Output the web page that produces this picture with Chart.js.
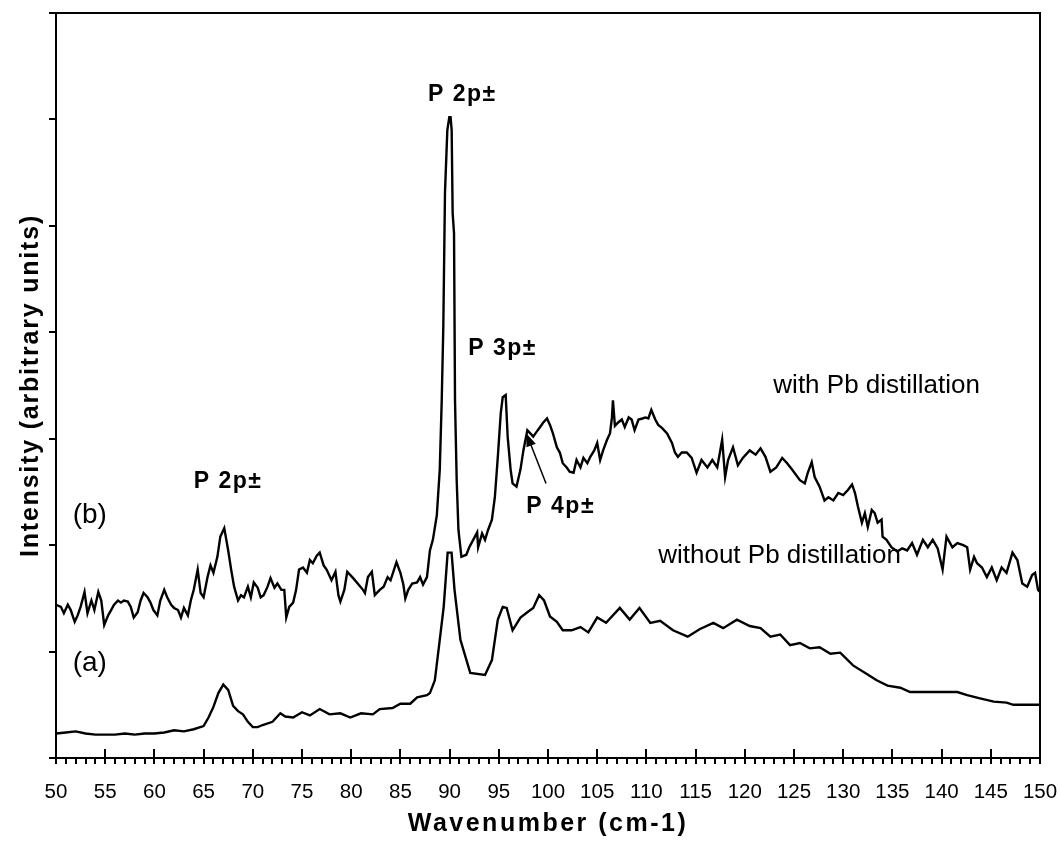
<!DOCTYPE html>
<html>
<head>
<meta charset="utf-8">
<script src="https://cdn.jsdelivr.net/npm/chart.js@4.4.0/dist/chart.umd.min.js"></script>
<style>
  html, body { margin: 0; padding: 0; background: #fff; }
  #wrap { width: 1060px; height: 848px; }
</style>
</head>
<body>
<div id="wrap"><canvas id="spectrum" width="1060" height="848"></canvas></div>
<script>
// (a) without Pb distillation - wavenumber (cm-1) / intensity (arb. units)
const waveA = [50, 51, 52, 53, 54, 55, 56, 57, 58, 59, 60, 61, 62, 63, 64, 65, 65.5, 66, 66.5, 67,
  67.5, 68, 68.5, 69, 69.5, 70, 70.5, 71, 72, 72.8, 73.3, 74.1, 75, 75.8, 76.8, 77.8, 78.9, 79.9,
  81, 82.2, 82.9, 84.2, 85, 86, 86.7, 87.7, 88, 88.5, 89, 89.4, 89.8, 90.2, 90.5, 91.1, 92.1,
  93.6, 94.3, 94.9, 95.4, 95.8, 96.4, 97.2, 97.9, 98.5, 99.1, 99.6, 100.2, 100.9, 101.5, 102.4,
  103.3, 104.1, 105, 105.9, 107.3, 108.3, 109.3, 110.4, 111.4, 112.7, 114.2, 115.4, 116.8, 117.8,
  119.2, 120.5, 121.6, 122.6, 123.6, 124.6, 125.6, 126.6, 127.6, 128.7, 129.7, 131, 132.4, 133.4,
  134.5, 135.8, 136.8, 138, 140, 141.6, 142.6, 143.9, 145.3, 146.6, 147.3, 150];
const intensityA = [0.23, 0.24, 0.25, 0.23, 0.22, 0.22, 0.22, 0.23, 0.22, 0.23, 0.23, 0.24, 0.26,
  0.25, 0.27, 0.30, 0.38, 0.48, 0.61, 0.69, 0.64, 0.49, 0.44, 0.41, 0.34, 0.29, 0.29, 0.31, 0.34,
  0.42, 0.39, 0.38, 0.43, 0.40, 0.46, 0.41, 0.42, 0.38, 0.42, 0.41, 0.46, 0.47, 0.51, 0.51, 0.57,
  0.59, 0.61, 0.73, 1.11, 1.42, 1.93, 1.93, 1.58, 1.11, 0.80, 0.78, 0.92, 1.30, 1.42, 1.41, 1.20,
  1.32, 1.37, 1.41, 1.53, 1.48, 1.33, 1.28, 1.20, 1.20, 1.23, 1.18, 1.32, 1.27, 1.41, 1.30, 1.41,
  1.27, 1.29, 1.20, 1.14, 1.21, 1.27, 1.22, 1.30, 1.24, 1.22, 1.14, 1.16, 1.06, 1.08, 1.03, 1.04,
  0.98, 0.99, 0.87, 0.79, 0.73, 0.68, 0.66, 0.62, 0.62, 0.62, 0.62, 0.59, 0.56, 0.53, 0.52, 0.50,
  0.50];

// (b) with Pb distillation
const waveB = [50, 50.5, 50.8, 51.2, 51.5, 51.9, 52.2, 52.5, 52.9, 53.2, 53.6, 53.9, 54.3, 54.6,
  54.9, 55.3, 55.6, 55.9, 56.3, 56.6, 56.9, 57.3, 57.6, 57.9, 58.3, 58.6, 58.9, 59.3, 59.6, 59.9,
  60.3, 60.6, 61, 61.3, 61.7, 62, 62.4, 62.7, 63, 63.4, 63.7, 64, 64.4, 64.7, 65, 65.4, 65.7, 66,
  66.4, 66.7, 67.1, 67.5, 67.8, 68.1, 68.5, 68.8, 69.1, 69.5, 69.8, 70.1, 70.5, 70.8, 71.1, 71.5,
  71.8, 72.2, 72.5, 72.9, 73.2, 73.4, 73.7, 74.1, 74.4, 74.7, 75.1, 75.5, 75.8, 76.1, 76.5, 76.8,
  77.2, 77.5, 78, 78.4, 78.7, 78.9, 79.3, 79.6, 80.2, 81.2, 81.4, 81.7, 82.1, 82.4, 82.9, 83.3,
  83.7, 84, 84.6, 85, 85.3, 85.5, 85.8, 86.2, 86.7, 87, 87.3, 87.7, 88, 88.3, 88.7, 89, 89.2,
  89.36, 89.53, 89.77, 89.97, 90.1, 90.21, 90.31, 90.45, 90.55, 90.72, 90.9, 91.2, 91.7, 92,
  92.4, 92.8, 92.9, 93.3, 93.6, 93.9, 94.3, 94.6, 94.9, 95.2, 95.4, 95.7, 95.9, 96.2, 96.4, 96.8,
  97.2, 97.5, 97.9, 98.2, 98.5, 98.8, 99.2, 99.5, 99.9, 100.2, 100.5, 100.9, 101.2, 101.5, 101.9,
  102.2, 102.6, 102.9, 103.3, 103.6, 104, 104.3, 104.7, 105, 105.3, 105.6, 106, 106.3, 106.5,
  106.6, 106.8, 107.1, 107.5, 107.8, 108.2, 108.5, 108.8, 109.2, 109.6, 109.9, 110.2, 110.5,
  110.9, 111.2, 111.6, 112.1, 112.6, 112.9, 113.2, 113.6, 114.1, 114.6, 115.1, 115.6, 116.2,
  116.7, 117.2, 117.7, 118, 118.3, 118.8, 119.3, 119.8, 120.5, 121.1, 121.6, 122.1, 122.6,
  123.2, 123.8, 124.3, 124.8, 125.6, 126.1, 126.4, 126.8, 127.1, 127.6, 128.1, 128.5, 129,
  129.5, 130, 130.5, 130.9, 131.2, 131.5, 131.9, 132.2, 132.5, 132.9, 133.2, 133.5, 133.9, 134,
  134.4, 134.9, 135.5, 136, 136.5, 137, 137.5, 137.8, 138.1, 138.6, 139.1, 139.6, 140.1, 140.5,
  141.1, 141.6, 142.2, 142.6, 142.9, 143.3, 143.6, 144.1, 144.6, 145.1, 145.6, 146.1, 146.6,
  147.2, 147.7, 148.2, 148.7, 149.2, 149.5, 149.8, 150];
const intensityB = [1.44, 1.42, 1.36, 1.44, 1.39, 1.28, 1.34, 1.42, 1.56, 1.36, 1.48, 1.39, 1.56,
  1.48, 1.25, 1.34, 1.39, 1.44, 1.48, 1.46, 1.48, 1.47, 1.42, 1.32, 1.37, 1.48, 1.55, 1.51, 1.46,
  1.39, 1.34, 1.48, 1.58, 1.51, 1.44, 1.41, 1.39, 1.32, 1.41, 1.34, 1.48, 1.58, 1.77, 1.55, 1.51,
  1.70, 1.81, 1.74, 1.89, 2.08, 2.16, 1.95, 1.77, 1.61, 1.48, 1.53, 1.51, 1.61, 1.51, 1.65, 1.60,
  1.51, 1.53, 1.61, 1.69, 1.60, 1.64, 1.58, 1.58, 1.32, 1.42, 1.46, 1.58, 1.77, 1.79, 1.74, 1.86,
  1.83, 1.90, 1.93, 1.81, 1.77, 1.67, 1.75, 1.53, 1.47, 1.58, 1.75, 1.69, 1.58, 1.55, 1.70, 1.75,
  1.53, 1.58, 1.61, 1.70, 1.67, 1.84, 1.74, 1.63, 1.50, 1.58, 1.64, 1.65, 1.70, 1.63, 1.70, 1.95,
  2.05, 2.28, 2.71, 3.36, 4.05, 5.31, 5.90, 6.02, 6.02, 5.90, 5.12, 4.93, 3.36, 2.61, 2.14, 1.89,
  1.91, 1.98, 2.05, 2.12, 1.98, 2.11, 2.05, 2.14, 2.24, 2.45, 2.83, 3.24, 3.39, 3.41, 3.02, 2.71,
  2.58, 2.55, 2.71, 2.89, 3.08, 3.05, 3.02, 3.06, 3.11, 3.15, 3.19, 3.13, 3.05, 2.92, 2.87, 2.77,
  2.73, 2.69, 2.68, 2.80, 2.73, 2.82, 2.77, 2.83, 2.89, 2.96, 2.80, 2.89, 2.99, 3.05, 3.20, 3.36,
  3.12, 3.15, 3.18, 3.11, 3.20, 3.18, 3.08, 3.18, 3.19, 3.20, 3.19, 3.27, 3.18, 3.13, 3.10, 3.05,
  2.96, 2.87, 2.83, 2.87, 2.87, 2.82, 2.68, 2.80, 2.73, 2.80, 2.73, 2.99, 2.64, 2.80, 2.92, 2.75,
  2.82, 2.89, 2.85, 2.91, 2.83, 2.69, 2.73, 2.82, 2.77, 2.71, 2.61, 2.58, 2.68, 2.78, 2.64, 2.55,
  2.42, 2.45, 2.42, 2.49, 2.47, 2.52, 2.57, 2.49, 2.36, 2.21, 2.30, 2.17, 2.33, 2.30, 2.21, 2.24,
  2.08, 2.05, 1.98, 1.94, 1.97, 1.95, 2.02, 1.91, 1.98, 2.05, 1.98, 2.05, 1.97, 1.77, 2.08, 1.98,
  2.02, 2.00, 1.98, 1.77, 1.89, 1.83, 1.79, 1.70, 1.79, 1.67, 1.79, 1.74, 1.93, 1.86, 1.64, 1.61,
  1.72, 1.74, 1.58, 1.56];

const xMin = 50, xMax = 150;
const yMin = 0, yMax = 7;

// text annotations placed in data coordinates (wavenumber, intensity)
const peakLabels = [
  { text: 'P 2p\u00b1', x: 64.0, y: 2.54 },
  { text: 'P 2p\u00b1', x: 87.8, y: 6.17 },
  { text: 'P 3p\u00b1', x: 91.9, y: 3.79 },
  { text: 'P 4p\u00b1', x: 97.8, y: 2.3 }
];
const seriesLabels = [
  { text: '(b)', x: 51.7, y: 2.21 },
  { text: '(a)', x: 51.7, y: 0.82 },
  { text: 'with Pb distillation', x: 122.9, y: 3.43 },
  { text: 'without Pb distillation', x: 111.2, y: 1.83 }
];
const arrowFrom = { x: 99.8, y: 2.58 };
const arrowTo = { x: 97.8, y: 3.05 };

function toPoints(xs, ys) {
  return xs.map((x, i) => ({ x: x, y: ys[i] }));
}

// tick marks, box and annotations
const decorPlugin = {
  id: 'decor',
  afterDraw(chart) {
    const ctx = chart.ctx;
    const area = chart.chartArea;
    const xs = chart.scales.x;
    const ys = chart.scales.y;
    ctx.save();
    ctx.strokeStyle = '#000';
    ctx.fillStyle = '#000';
    ctx.lineWidth = 2;

    // top + right frame
    ctx.beginPath();
    ctx.moveTo(area.left - 7, area.top);
    ctx.lineTo(area.right, area.top);
    ctx.lineTo(area.right, area.bottom);
    ctx.stroke();

    // x ticks: major every 5 crossing the axis, minor every 1 outside
    ctx.beginPath();
    for (let v = xMin; v <= xMax; v++) {
      const px = Math.round(xs.getPixelForValue(v));
      const up = v % 5 === 0 ? 9 : 0;
      ctx.moveTo(px, area.bottom - up);
      ctx.lineTo(px, area.bottom + 6);
    }
    // y ticks outward
    for (let v = yMin; v <= yMax; v++) {
      const py = Math.round(ys.getPixelForValue(v));
      ctx.moveTo(area.left - 7, py);
      ctx.lineTo(area.left, py);
    }
    ctx.stroke();

    // arrow to P 4p peak
    const ax0 = xs.getPixelForValue(arrowFrom.x), ay0 = ys.getPixelForValue(arrowFrom.y);
    const ax1 = xs.getPixelForValue(arrowTo.x), ay1 = ys.getPixelForValue(arrowTo.y);
    const ang = Math.atan2(ay1 - ay0, ax1 - ax0);
    ctx.lineWidth = 1.5;
    ctx.beginPath();
    ctx.moveTo(ax0, ay0);
    ctx.lineTo(ax1 - 8 * Math.cos(ang), ay1 - 8 * Math.sin(ang));
    ctx.stroke();
    ctx.beginPath();
    ctx.moveTo(ax1, ay1);
    ctx.lineTo(ax1 - 13 * Math.cos(ang) + 5 * Math.sin(ang), ay1 - 13 * Math.sin(ang) - 5 * Math.cos(ang));
    ctx.lineTo(ax1 - 13 * Math.cos(ang) - 5 * Math.sin(ang), ay1 - 13 * Math.sin(ang) + 5 * Math.cos(ang));
    ctx.closePath();
    ctx.fill();

    ctx.textAlign = 'left';
    ctx.textBaseline = 'alphabetic';
    ctx.font = 'bold 23px "Liberation Sans", Arial, sans-serif';
    ctx.letterSpacing = '1.5px';
    peakLabels.forEach(l => {
      ctx.fillText(l.text, xs.getPixelForValue(l.x), ys.getPixelForValue(l.y));
    });
    ctx.letterSpacing = '0px';
    seriesLabels.forEach(l => {
      ctx.font = (l.text.length < 4 ? '28px' : '26px') + ' "Liberation Sans", Arial, sans-serif';
      ctx.fillText(l.text, xs.getPixelForValue(l.x), ys.getPixelForValue(l.y));
    });

    // axis titles
    ctx.font = 'bold 25px "Liberation Sans", Arial, sans-serif';
    ctx.letterSpacing = '2.5px';
    ctx.textAlign = 'center';
    ctx.fillText('Wavenumber (cm-1)', (area.left + area.right) / 2, 831);
    ctx.translate(38, (area.top + area.bottom) / 2);
    ctx.rotate(-Math.PI / 2);
    ctx.letterSpacing = '1.8px';
    ctx.fillText('Intensity (arbitrary units)', 0, 0);
    ctx.restore();
  }
};

new Chart(document.getElementById('spectrum'), {
  type: 'line',
  data: {
    datasets: [
      {
        label: '(b) with Pb distillation',
        data: toPoints(waveB, intensityB),
        borderColor: '#000',
        borderWidth: 2.4,
        pointRadius: 0,
        tension: 0,
        fill: false
      },
      {
        label: '(a) without Pb distillation',
        data: toPoints(waveA, intensityA),
        borderColor: '#000',
        borderWidth: 2.4,
        pointRadius: 0,
        tension: 0,
        fill: false
      }
    ]
  },
  options: {
    responsive: false,
    animation: false,
    layout: { padding: { top: 13, right: 20, left: 0, bottom: 0 } },
    plugins: {
      legend: { display: false },
      tooltip: { enabled: false }
    },
    scales: {
      x: {
        type: 'linear',
        min: xMin,
        max: xMax,
        afterFit(scale) {
          scale.height = 90;
          scale.paddingLeft = 0;
          scale.paddingRight = 0;
        },
        border: { display: true, color: '#000', width: 2 },
        grid: { display: true, drawOnChartArea: false, drawTicks: true, tickLength: 6, color: 'rgba(0,0,0,0)' },
        ticks: {
          stepSize: 1,
          autoSkip: false,
          maxRotation: 0,
          padding: 16,
          color: '#000',
          font: { family: '"Liberation Sans", Arial, sans-serif', size: 20.5 },
          callback: v => (v % 5 === 0 ? String(v) : '')
        }
      },
      y: {
        type: 'linear',
        min: yMin,
        max: yMax,
        afterFit(scale) { scale.width = 56; },
        border: { display: true, color: '#000', width: 2 },
        grid: { display: false },
        ticks: { display: false, stepSize: 1 }
      }
    }
  },
  plugins: [decorPlugin]
});
</script>
</body>
</html>
